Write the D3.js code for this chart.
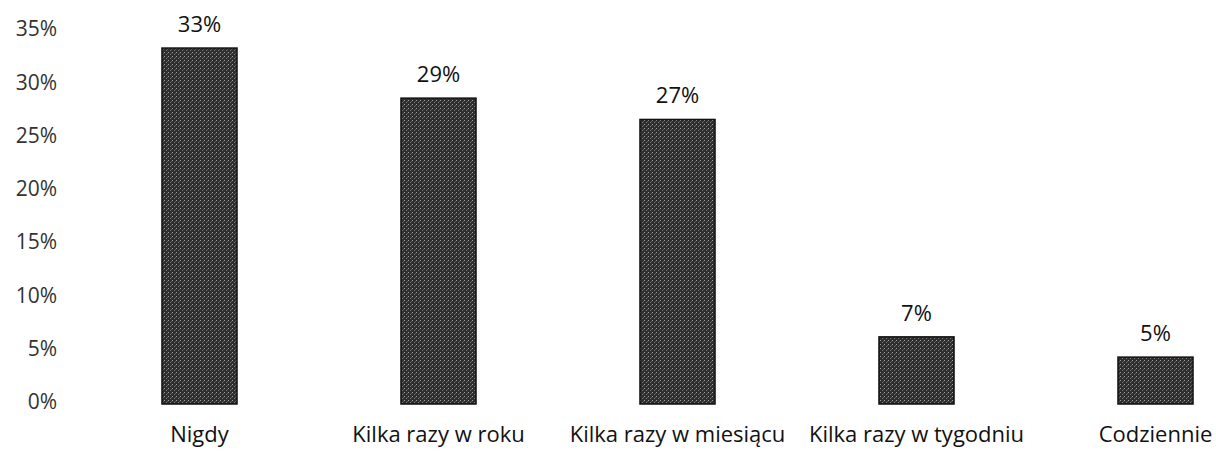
<!DOCTYPE html>
<meta charset="utf-8">
<script src="https://d3js.org/d3.v7.min.js"></script>
<style>
  body { margin: 0; background: #fff; }
  text { font-family: "Open Sans", sans-serif; fill: #111; }
</style>
<div id="my_dataviz"></div>
<script>

// data
var categories = ["Nigdy", "Kilka razy w roku", "Kilka razy w miesiącu", "Kilka razy w tygodniu", "Codziennie"];
var values = [33.4, 28.7, 26.7, 6.3, 4.4];
var valueLabels = ["33%", "29%", "27%", "7%", "5%"];
var yTicks = [0, 5, 10, 15, 20, 25, 30, 35];

var width = 1216, height = 452;

var svg = d3.select("#my_dataviz")
  .append("svg")
    .attr("width", width)
    .attr("height", height);

// dotted texture for the bars (looks like the scanned grey fill)
var pat = svg.append("defs").append("pattern")
    .attr("id", "grain")
    .attr("width", 4).attr("height", 4)
    .attr("patternUnits", "userSpaceOnUse");
pat.append("rect").attr("width", 4).attr("height", 4).attr("fill", "#2e2e2e");
pat.append("rect").attr("x", 0).attr("y", 0).attr("width", 1).attr("height", 1).attr("fill", "#a0a0a0");
pat.append("rect").attr("x", 2).attr("y", 2).attr("width", 1).attr("height", 1).attr("fill", "#7a7a7a");
pat.append("rect").attr("x", 3).attr("y", 1).attr("width", 1).attr("height", 1).attr("fill", "#5a5a5a");

var x = d3.scaleBand()
  .domain(categories)
  .range([80, 1275])
  .paddingInner(0.686)
  .paddingOuter(0.343);

var y = d3.scaleLinear()
  .domain([0, 35])
  .range([404, 31]);

// Y axis labels only
var yAxis = svg.append("g")
  .attr("transform", "translate(57,-2)")
  .call(d3.axisLeft(y).tickValues(yTicks).tickSize(0).tickPadding(0)
        .tickFormat(function(d){ return d + "%"; }));
yAxis.select(".domain").remove();
yAxis.selectAll("text")
  .style("font-family", "'Open Sans', sans-serif")
  .style("font-size", "21px")
  .style("fill", "#333");

// bars
svg.append("g")
  .selectAll("rect")
  .data(values)
  .enter()
  .append("rect")
    .attr("x", function(d, i){ return x(categories[i]); })
    .attr("y", function(d){ return y(d); })
    .attr("width", x.bandwidth())
    .attr("height", function(d){ return y(0) - y(d); })
    .attr("fill", "url(#grain)")
    .attr("stroke", "#111")
    .attr("stroke-width", 1.5);

// value labels
svg.append("g")
  .selectAll("text")
  .data(values)
  .enter()
  .append("text")
    .attr("x", function(d, i){ return x(categories[i]) + x.bandwidth() / 2; })
    .attr("y", function(d){ return y(d) - 16; })
    .attr("text-anchor", "middle")
    .style("font-size", "22px")
    .text(function(d, i){ return valueLabels[i]; });

// category labels
svg.append("g")
  .selectAll("text")
  .data(categories)
  .enter()
  .append("text")
    .attr("x", function(d){ return x(d) + x.bandwidth() / 2; })
    .attr("y", 442)
    .attr("text-anchor", "middle")
    .style("font-size", "22px")
    .text(function(d){ return d; });

</script>
